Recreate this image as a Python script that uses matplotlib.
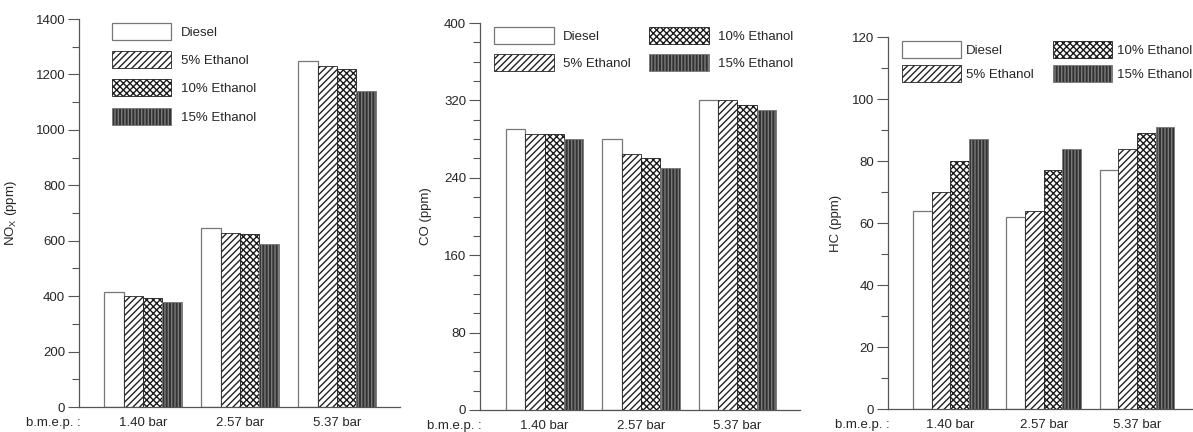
import numpy as np
import matplotlib
matplotlib.use("Agg")
import matplotlib.pyplot as plt
from matplotlib.ticker import MultipleLocator

plt.rcParams['font.family'] = ['Liberation Sans', 'DejaVu Sans']
plt.rcParams['mathtext.fontset'] = 'custom'
plt.rcParams['mathtext.rm'] = 'Liberation Sans'
plt.rcParams['mathtext.it'] = 'Liberation Sans:italic'
plt.rcParams['font.size'] = 9.5
plt.rcParams['hatch.linewidth'] = 1.0

loads = ["1.40 bar", "2.57 bar", "5.37 bar"]
fuels = ["Diesel", "5% Ethanol", "10% Ethanol", "15% Ethanol"]

nox_diesel = [416, 647, 1247]
nox_e5 = [400, 628, 1229]
nox_e10 = [394, 623, 1219]
nox_e15 = [380, 589, 1141]

co_diesel = [290, 280, 320]
co_e5 = [285, 265, 320]
co_e10 = [285, 260, 315]
co_e15 = [280, 250, 310]

hc_diesel = [64, 62, 77]
hc_e5 = [70, 64, 84]
hc_e10 = [80, 77, 89]
hc_e15 = [87, 84, 91]

TXT = '#262626'
SP = '#555555'

styles = [
    dict(facecolor='white', edgecolor='#777777', hatch=None, linewidth=0.9),
    dict(facecolor='white', edgecolor='#222222', hatch='/////', linewidth=0.6),
    dict(facecolor='white', edgecolor='#1a1a1a', hatch='xxxxx', linewidth=0.6),
    dict(facecolor='#333333', edgecolor='#7a7a7a', hatch='|||||', linewidth=0.6),
]

W, H = 1193, 432
fig = plt.figure(figsize=(W / 100, H / 100), dpi=100)

def ax_at(x0, x1, y_top, y_bot):
    return fig.add_axes([x0 / W, 1 - y_bot / H, (x1 - x0) / W, (y_bot - y_top) / H])

panels = [
    dict(box=(79, 400, 19, 407), data=[nox_diesel, nox_e5, nox_e10, nox_e15],
         ylim=1400, major=200, minor=100, xlim=(-0.66, 2.65),
         ylabel=r'NO$_\mathrm{X}$ (ppm)', lx=-0.187, ncol=1,
         leg=(0.103, 0.99), rowsp=0.86, tpad=0.7, cs=1.4),
    dict(box=(480, 800, 23, 410), data=[co_diesel, co_e5, co_e10, co_e15],
         ylim=400, major=80, minor=20, xlim=(-0.67, 2.65),
         ylabel='CO (ppm)', lx=-0.15, ncol=2,
         leg=(0.045, 0.99), rowsp=0.8, tpad=0.7, cs=1.4),
    dict(box=(888, 1193, 37, 409), data=[hc_diesel, hc_e5, hc_e10, hc_e15],
         ylim=120, major=20, minor=10, xlim=(-0.67, 2.6),
         ylabel='HC (ppm)', lx=-0.151, ncol=2,
         leg=(0.045, 0.99), rowsp=0.58, tpad=0.35, cs=1.47),
]

x = np.arange(len(loads))
bw = 0.2
for p in panels:
    ax = ax_at(*p['box'])
    handles = []
    for i, (vals, st) in enumerate(zip(p['data'], styles)):
        b = ax.bar(x + (i - 1.5) * bw, vals, bw, label=fuels[i], zorder=2, **st)
        handles.append(b)
    ax.set_xlim(*p['xlim'])
    ax.set_ylim(0, p['ylim'])
    ax.yaxis.set_major_locator(MultipleLocator(p['major']))
    ax.yaxis.set_minor_locator(MultipleLocator(p['minor']))
    ax.set_xticks(x)
    ax.set_xticklabels(loads)
    for s in ['top', 'right']:
        ax.spines[s].set_visible(False)
    for s in ['left', 'bottom']:
        ax.spines[s].set_color(SP)
        ax.spines[s].set_linewidth(0.9)
    ax.tick_params(axis='x', length=0, pad=7, colors=TXT)
    ax.tick_params(axis='y', which='major', length=8, width=0.8, color=SP, labelcolor=TXT, pad=2)
    ax.tick_params(axis='y', which='minor', length=5, width=0.8, color=SP)
    ax.set_ylabel(p['ylabel'], color=TXT)
    ax.yaxis.set_label_coords(p['lx'], 0.5)
    ax.annotate('b.m.e.p. :', xy=(0, 0), xycoords='axes fraction',
                xytext=(1, -7), textcoords='offset points',
                ha='right', va='top', color=TXT)
    ax.legend(handles=handles, ncol=p['ncol'], loc='upper left',
              bbox_to_anchor=p['leg'], frameon=False,
              handlelength=4.5, handleheight=1.6, handletextpad=p['tpad'],
              labelspacing=p['rowsp'], columnspacing=p['cs'],
              borderpad=0, borderaxespad=0, labelcolor=TXT)

fig.savefig('out.png', dpi=100)
